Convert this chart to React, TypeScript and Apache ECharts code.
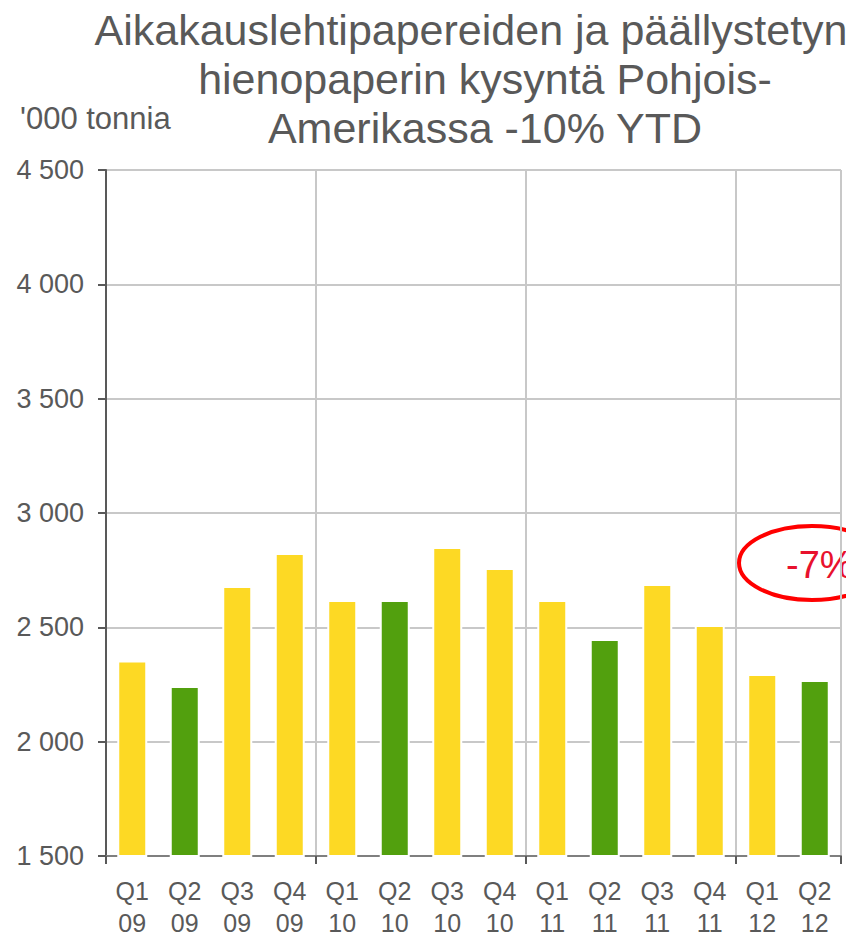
import React, { useEffect, useRef } from "react";
import * as echarts from "echarts";

const quarters = ["Q1", "Q2", "Q3", "Q4", "Q1", "Q2", "Q3", "Q4", "Q1", "Q2", "Q3", "Q4", "Q1", "Q2"];
const years = ["09", "09", "09", "09", "10", "10", "10", "10", "11", "11", "11", "11", "12", "12"];
const demand = [2355, 2243, 2681, 2825, 2619, 2619, 2851, 2759, 2619, 2449, 2689, 2510, 2296, 2270];
const highlightQuarter = "Q2";
const titleLines = [
  "Aikakauslehtipapereiden ja päällystetyn",
  "hienopaperin kysyntä Pohjois-",
  "Amerikassa -10% YTD",
];
const unitLabel = "'000 tonnia";
const calloutText = "-7%";

const FONT = "'Liberation Sans', Arial, sans-serif";
const GRAY = "#595959";

export default function App() {
  const ref = useRef<HTMLDivElement>(null);
  useEffect(() => {
    if (!ref.current) return;
    const chart = echarts.init(ref.current, undefined, { renderer: "svg" });
    const categories = quarters.map((q, i) => `${q}\n${years[i]}`);
    const titleX = [471, 485, 485];
    chart.setOption({
      animation: false,
      textStyle: { fontFamily: FONT },
      grid: {
        left: 106,
        right: 5,
        top: 170,
        bottom: 84,
        containLabel: false,
        outerBoundsMode: "none",
      },
      xAxis: {
        type: "category",
        data: categories,
        boundaryGap: true,
        axisLine: { show: true, lineStyle: { color: "#7f7f7f", width: 2 } },
        axisTick: {
          show: true,
          length: 8,
          interval: (i: number) => i % 4 === 0,
          lineStyle: { color: GRAY, width: 2 },
        },
        splitLine: {
          show: true,
          interval: (i: number) => i % 4 === 0 && i > 0,
          lineStyle: { color: "#c8c8c8", width: 2 },
        },
        axisLabel: {
          interval: 0,
          fontSize: 25,
          lineHeight: 32,
          color: GRAY,
          margin: 19,
          fontFamily: FONT,
        },
      },
      yAxis: {
        type: "value",
        min: 1500,
        max: 4500,
        interval: 500,
        axisLine: { show: true, lineStyle: { color: GRAY, width: 2 } },
        axisTick: { show: true, length: 8, lineStyle: { color: GRAY, width: 2 } },
        splitLine: { show: true, lineStyle: { color: "#c8c8c8", width: 2 } },
        axisLabel: {
          fontSize: 27,
          color: GRAY,
          margin: 22,
          fontFamily: FONT,
          formatter: (v: number) => String(v).replace(/\B(?=(\d{3})+(?!\d))/g, " "),
        },
      },
      series: [
        {
          type: "bar",
          barWidth: 30,
          data: demand.map((v, i) => ({
            value: v,
            itemStyle: {
              color: quarters[i] === highlightQuarter ? "#52A00E" : "#FDD924",
              borderColor: "#ffffff",
              borderWidth: 2,
            },
          })),
        },
      ],
      graphic: [
        ...titleLines.map((line, i) => ({
          type: "text",
          x: titleX[i],
          y: 30 + i * 49,
          style: {
            text: line,
            textAlign: "center",
            textVerticalAlign: "middle",
            fontSize: 43,
            fill: GRAY,
            fontFamily: FONT,
          },
        })),
        {
          type: "text",
          x: 20,
          y: 118,
          style: {
            text: unitLabel,
            textVerticalAlign: "middle",
            fontSize: 31,
            fill: GRAY,
            fontFamily: FONT,
          },
        },
        {
          type: "ellipse",
          shape: { cx: 812, cy: 563, rx: 73, ry: 37 },
          style: { fill: "none", stroke: "#ff0000", lineWidth: 4 },
        },
        {
          type: "text",
          x: 786,
          y: 565,
          style: {
            text: calloutText,
            textVerticalAlign: "middle",
            fontSize: 38,
            fill: "#e8112d",
            fontFamily: FONT,
          },
        },
      ],
    });
    return () => chart.dispose();
  }, []);
  return <div ref={ref} style={{ width: 846, height: 940, position: "absolute", left: 0, top: 0 }} />;
}
